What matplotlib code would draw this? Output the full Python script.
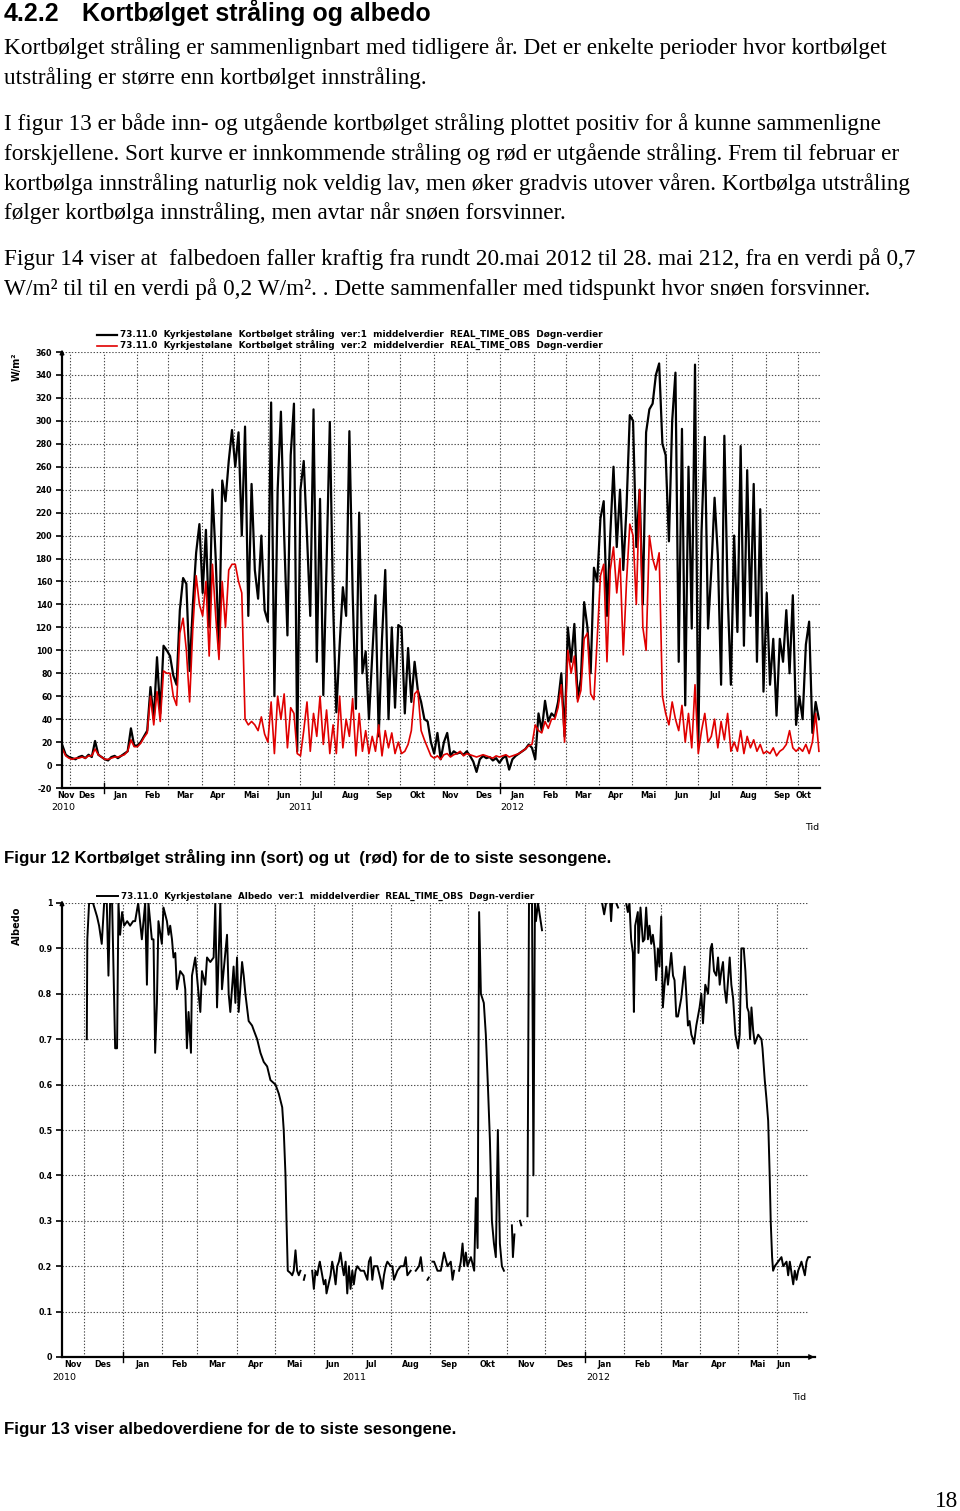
import datetime as dt
import numpy as np
import matplotlib
matplotlib.use("Agg")
import matplotlib.pyplot as plt
import matplotlib.dates as mdates

W, H = 960, 1511

# Figur 12: daglige middelverdier, lest av hver 3. dag fra 24.11.2010
sw_start = dt.datetime(2010, 11, 24)
sw_step = 3
sw_in = [17, 9, 7,
         6, 5, 7, 8, 6, 9, 7, 21, 9, 7,
         5, 4, 7, 8, 6, 8, 10, 12, 32, 17,
         17, 20, 25, 30, 68, 40, 94, 45, 104, 100,
         95, 78, 70, 135, 163, 158, 82, 140, 185, 210,
         150, 205, 120, 240, 180, 100, 248, 230, 265, 292,
         260, 290, 200, 295, 130, 245, 170, 145, 200, 135,
         125, 316, 60, 240, 308, 200, 113, 270, 315, 12,
         240, 265, 200, 130, 310, 90, 232, 61, 175, 299, 140,
         46, 104, 155, 130, 291, 150, 49, 220, 80, 99,
         40, 95, 148, 25, 110, 170, 40, 120, 50, 122,
         120, 45, 102, 55, 90, 65, 55, 40, 38, 20,
         10, 28, 5, 20, 28, 8, 12, 10, 11, 9,
         12, 8, 3, -6, 5, 8, 6, 7, 4, 6, 2,
         6, 8, -4, 5, 8, 10, 12, 14, 18, 15,
         5, 45, 30, 56, 38, 45, 42, 55, 80, 25,
         120, 90, 123, 58, 75, 142, 120, 80, 172, 160,
         215, 230, 130, 200, 260, 190, 240, 170, 225, 305,
         300, 190, 240, 140, 290, 310, 315, 340, 350, 280,
         270, 195, 300, 342, 90, 293, 52, 260, 119, 349,
         17, 203, 286, 119, 170, 233, 183, 70, 287, 150, 70,
         200, 116, 278, 104, 257, 130, 245, 90, 223, 64,
         150, 70, 110, 43, 110, 90, 135, 80, 148, 35,
         60, 40, 105, 125, 28, 55, 40]
sw_out = [14, 8, 6,
          5, 6, 6, 7, 6, 8, 8, 14, 9, 7,
          5, 5, 6, 7, 7, 8, 9, 12, 22, 16,
          16, 19, 24, 28, 60, 35, 64, 38, 82, 80,
          80, 60, 52, 115, 128, 100, 55, 120, 165, 140,
          130, 160, 95, 175, 130, 92, 160, 120, 170, 175,
          175, 160, 150, 40, 35, 38, 35, 30, 42, 27,
          20, 55, 10, 60, 40, 62, 15, 50, 45, 10,
          8, 30, 55, 12, 45, 25, 60, 18, 48, 10, 35,
          10, 60, 15, 40, 25, 58, 8, 45, 12, 30,
          10, 25, 12, 35, 8, 30, 15, 28, 10, 20,
          10, 12, 18, 30, 62, 65, 30, 22, 15, 8,
          6, 8, 5, 9, 10, 7, 9, 10, 12, 8,
          10, 9, 8, 7, 8, 9, 8, 7, 6, 8, 7,
          8, 9, 7, 8, 9, 10, 12, 14, 17, 18,
          35, 30, 28, 38, 32, 40, 40, 50, 70, 20,
          100, 80, 95, 55, 65, 110, 115, 62, 57, 110,
          165, 175, 90, 170, 190, 150, 180, 96, 160, 210,
          200, 140, 240, 120, 100, 200, 180, 170, 185, 60,
          45, 35, 55, 40, 30, 52, 20, 45, 15, 70,
          10, 30, 45, 20, 25, 40, 15, 38, 22, 45, 12,
          20, 12, 30, 10, 25, 15, 22, 12, 18, 10,
          12, 10, 15, 8, 12, 14, 18, 30, 15, 12,
          15, 12, 18, 10, 20, 45, 12]

# Figur 13: albedo, dager etter 14.11.2010 (nan = hull i serien)
alb_start = dt.datetime(2010, 11, 14)
nan = np.nan
alb_day = [19.6, 20.0, 21.4, 24.5, 27.7, 29.3, 31.4, 33.3, 35.4, 36.7, 38.0, 39.6, 42.0, 43.5, 44.6,
           45.9, 47.5, 49.1, 51.5, 53.8, 56.2, 57.8, 60.2, 63.1, 65.7, 67.1, 68.3, 71.0, 72.3, 73.6,
           75.0, 76.2, 78.9, 80.2, 82.9, 84.2, 85.5, 86.9, 88.1, 89.5, 90.8, 93.4, 96.0, 97.4, 98.7,
           100.0, 101.9, 102.7, 105.3, 107.9, 109.3, 110.6, 113.2, 114.6, 117.2, 119.8, 121.1, 122.5,
           125.1, 126.4, 127.7, 130.4, 131.7, 133.0, 135.6, 137.0, 138.3, 139.6, 142.3, 143.6, 144.9,
           147.5, 150.2, 151.5, 154.2, 156.8, 159.4, 162.1, 164.7, 168.7, 171.3, 174.0, 175.2, 176.6,
           177.4, 178.4, 180.5, 181.9, 183.1, 184.5, 185.8, 187.1, 188.4, 189.5, 191.1, 192.0, 193.0,
           197.7, 199.0, 200.3, 201.7, 202.9, 203.7, 205.6, 206.9, 208.2, 209.0, 212.2, 213.5, 214.8,
           216.2, 217.5, 218.8, 220.1, 221.5, 222.7, 224.1, 225.4, 226.7, 228.0, 229.4, 230.6, 232.0,
           233.3, 236.0, 238.6, 241.3, 242.5, 243.9, 245.2, 246.5, 249.2, 251.8, 253.1, 254.4, 255.8,
           257.1, 259.7, 261.1, 262.3, 265.0, 267.6, 270.2, 271.6, 272.9, 275.5, 277.0, 279.5, 282.1,
           283.5, 284.8, 286.5, 288.8, 289.8, 291.0, 292.7, 294.0, 296.7, 299.3, 301.9, 304.6, 307.2,
           308.6, 309.8, 312.0, 313.8, 315.1, 316.5, 317.7, 319.1, 320.4, 323.1, 325.7, 327.0, 328.4,
           329.6, 331.0, 333.3, 334.9, 336.5, 338.1, 339.7, 341.3, 342.8, 344.4, 346.0, 347.6, 349.2,
           352.0, 355.5, 356.3, 357.5, 359.5, 361.9, 362.9, 365.0, 367.8, 369.0, 371.4, 372.5, 373.7,
           374.5, 376.1, 379.3, 400.0, 426.8, 428.4, 429.9, 431.5, 433.1, 433.9, 434.7, 436.0, 437.9,
           439.4, 442.0, 445.8, 447.1, 448.4, 449.7, 451.1, 451.9, 452.9, 455.0, 455.5, 457.1, 459.0,
           460.3, 461.6, 463.0, 464.2, 465.6, 466.9, 468.2, 469.5, 470.9, 472.1, 473.5, 474.8, 476.1,
           477.5, 478.8, 481.4, 482.8, 484.0, 485.4, 486.7, 489.3, 492.0, 493.3, 494.6, 495.9, 497.3,
           498.6, 499.4, 501.2, 503.8, 505.2, 506.5, 508.3, 510.5, 512.5, 513.6, 515.2, 517.0, 518.4,
           519.7, 521.0, 522.3, 523.6, 525.0, 526.3, 527.6, 528.9, 530.3, 532.1, 534.2, 535.5, 536.8,
           538.7, 540.0, 541.4, 542.6, 543.7, 544.8, 546.1, 547.4, 550.1, 552.7, 553.5, 555.3, 556.6,
           558.0, 559.2, 560.0, 561.1, 561.9, 563.2, 565.9, 568.5, 569.9, 572.5, 573.8, 575.1, 577.8,
           579.0, 580.4, 581.7, 583.0, 584.3, 587.0, 588.3, 589.6, 590.9]
alb_val = [0.70, 0.92, 1.0, 1.0, 0.97, 0.95, 0.91, 1.0, 1.0, 0.84, 1.0, 1.0, 0.68, 0.68, 1.0,
           0.93, 0.98, 0.95, 0.96, 0.95, 0.96, 0.96, 1.0, 0.92, 1.0, 0.82, 1.0, 0.92, 0.92, 0.67,
           0.78, 0.96, 0.91, 0.99, 0.96, 0.93, 0.95, 0.92, 0.88, 0.89, 0.81, 0.85, 0.84, 0.81, 0.68,
           0.76, 0.67, 0.84, 0.88, 0.80, 0.76, 0.85, 0.82, 0.88, 0.87, 0.88, 1.0, 0.77,
           1.0, 0.81, 0.85, 0.93, 0.80, 0.76, 0.86, 0.78, 0.88, 0.76, 0.87, 0.84, 0.80,
           0.74, 0.73, 0.72, 0.70, 0.67, 0.65, 0.64, 0.61, 0.60, 0.58, 0.55, 0.50, 0.40,
           0.30, 0.19, 0.185, 0.18, 0.19, 0.235, 0.19, 0.18, 0.19, nan, 0.17, 0.18, nan,
           0.19, 0.15, 0.19, 0.18, 0.20, 0.21, 0.18, 0.16, 0.17, 0.14, 0.18, 0.21, 0.19,
           0.16, 0.20, 0.21, 0.23, 0.20, 0.18, 0.21, 0.14, 0.20, 0.15, 0.19, 0.16, 0.19,
           0.20, 0.19, 0.19, 0.17, 0.21, 0.22, 0.17, 0.20, 0.20, 0.17, 0.15, 0.18, 0.20,
           0.21, 0.20, 0.20, 0.17, 0.19, 0.20, 0.20, 0.22, 0.18, 0.19, nan, 0.19, 0.20,
           0.22, 0.19, nan, 0.17, 0.175, nan, 0.21, 0.21, 0.19, 0.19, 0.23, 0.20, 0.21,
           0.17, 0.19, nan, 0.19, 0.21, 0.25, 0.20, 0.23, 0.20, 0.22, 0.19, 0.35, 0.24,
           0.98, 0.80, 0.78, 0.71, 0.60, 0.48, 0.30, 0.25, 0.22, 0.50, 0.25, 0.20, 0.19,
           nan, 0.29, 0.22, 0.27, nan, 0.30, 0.29, nan, 0.31, 1.0, 1.0, 0.40, 1.0,
           0.96, 1.0, 0.94, nan, 1.0, 0.975, 1.0, nan, 1.0, 0.96, 1.0, nan, 1.0,
           0.99, nan, 1.0, 0.98, 1.0, 0.92, 0.89, 0.76, 0.95, 0.98, 0.89, 0.99, 0.915,
           0.92, 0.99, 0.92, 0.95, 0.91, 0.93, 0.90, 0.83, 0.90, 0.86, 0.97, 0.77, 0.82,
           0.86, 0.82, 0.89, 0.84, 0.83, 0.75, 0.75, 0.79, 0.86, 0.80, 0.73, 0.74, 0.71,
           0.70, 0.69, 0.73, 0.77, 0.80, 0.735, 0.82, 0.80, 0.90, 0.91, 0.85, 0.84, 0.88,
           0.82, 0.85, 0.87, 0.81, 0.78, 0.83, 0.88, 0.82, 0.79, 0.71, 0.68, 0.71, 0.90,
           0.90, 0.85, 0.77, 0.76, 0.70, 0.77, 0.72, 0.69, 0.71, 0.70, 0.68, 0.61, 0.57,
           0.52, 0.40, 0.30, 0.22, 0.19, 0.20, 0.21, 0.22, 0.20, 0.21, 0.18, 0.21, 0.16,
           0.19, 0.17, 0.19, 0.20, 0.21, 0.18, 0.21, 0.22, 0.22]

month_names = ['Jan', 'Feb', 'Mar', 'Apr', 'Mai', 'Jun', 'Jul', 'Aug', 'Sep', 'Okt', 'Nov', 'Des']

legend1 = ['73.11.0  Kyrkjestølane  Kortbølget stråling  ver:1  middelverdier  REAL_TIME_OBS  Døgn-verdier',
           '73.11.0  Kyrkjestølane  Kortbølget stråling  ver:2  middelverdier  REAL_TIME_OBS  Døgn-verdier']
legend2 = '73.11.0  Kyrkjestølane  Albedo  ver:1  middelverdier  REAL_TIME_OBS  Døgn-verdier'

body = [
    (54, 'Kortbølget stråling er sammenlignbart med tidligere år. Det er enkelte perioder hvor kortbølget'),
    (84, 'utstråling er større enn kortbølget innstråling.'),
    (130, 'I figur 13 er både inn- og utgående kortbølget stråling plottet positiv for å kunne sammenligne'),
    (160, 'forskjellene. Sort kurve er innkommende stråling og rød er utgående stråling. Frem til februar er'),
    (190, 'kortbølga innstråling naturlig nok veldig lav, men øker gradvis utover våren. Kortbølga utstråling'),
    (219, 'følger kortbølga innstråling, men avtar når snøen forsvinner.'),
    (265, 'Figur 14 viser at  falbedoen faller kraftig fra rundt 20.mai 2012 til 28. mai 212, fra en verdi på 0,7'),
    (295, 'W/m² til til en verdi på 0,2 W/m². . Dette sammenfaller med tidspunkt hvor snøen forsvinner.'),
]

GRID = dict(color='#4a4a4a', lw=0.8, ls=(0, (1.2, 1.6)))
TICKFONT = dict(family='DejaVu Sans', weight='bold', size=5.8)


def fx(px):
    return px / W


def fy(py):
    return 1 - py / H


def month_starts(d0, d1):
    out = []
    y, m = d0.year, d0.month
    while True:
        m += 1
        if m > 12:
            m, y = 1, y + 1
        d = dt.datetime(y, m, 1)
        if d >= d1:
            break
        out.append(d)
    return out


def dress_time_axis(ax, d0, d1, years, label_end):
    ax.set_xlim(mdates.date2num(d0), mdates.date2num(d1))
    starts = month_starts(d0, d1)
    for d in starts:
        ax.axvline(mdates.date2num(d), zorder=0, **GRID)
    edges = [d0] + starts + [label_end]
    mids = [mdates.date2num(a) + (mdates.date2num(b) - mdates.date2num(a)) / 2 for a, b in zip(edges[:-1], edges[1:])]
    labels = [month_names[a.month - 1] for a in edges[:-1]]
    ax.set_xticks(mids)
    ax.set_xticklabels(labels, **TICKFONT)
    ax.tick_params(axis='x', length=0, pad=2)
    for d in starts:
        if d.month == 1:
            ax.axvline(mdates.date2num(d), ymin=-0.012, ymax=0.012, color='black', lw=1.0, clip_on=False)
    for label, d in years:
        ax.text(mdates.date2num(d), -0.045, label, transform=ax.get_xaxis_transform(),
                ha='center', va='center', family='DejaVu Sans', size=6.8)


fig = plt.figure(figsize=(W / 100, H / 100), dpi=100)
fig.patch.set_facecolor('white')

# page text
fig.text(fx(4), fy(21), '4.2.2', family='Liberation Sans', weight='bold', size=18)
fig.text(fx(82), fy(21), 'Kortbølget stråling og albedo', family='Liberation Sans', weight='bold', size=18)
for base, line in body:
    fig.text(fx(4), fy(base), line, family='Liberation Serif', size=16.75)

# ---- figur 12
ax1 = fig.add_axes([fx(62), fy(788), (820 - 62) / W, (788 - 352) / H])
t_sw = [mdates.date2num(sw_start + dt.timedelta(days=sw_step * i)) for i in range(len(sw_in))]
ax1.plot(t_sw, sw_in, color='black', lw=1.6, label=legend1[0])
ax1.plot(t_sw, sw_out, color='#e00000', lw=1.2, label=legend1[1])
ax1.set_ylim(-20, 360)
ax1.set_yticks(range(-20, 361, 20))
ax1.set_yticklabels([str(v) for v in range(-20, 361, 20)], **TICKFONT)
ax1.tick_params(axis='y', length=4, width=1.2, pad=3)
for v in range(0, 361, 20):
    ax1.axhline(v, zorder=0, **GRID)
dress_time_axis(ax1, dt.datetime(2010, 11, 23, 14), dt.datetime(2012, 10, 21),
                [('2010', dt.datetime(2010, 11, 25)), ('2011', dt.datetime(2011, 7, 1)),
                 ('2012', dt.datetime(2012, 1, 12))], dt.datetime(2012, 10, 10))
for s in ['top', 'right']:
    ax1.spines[s].set_visible(False)
ax1.spines['left'].set_linewidth(1.6)
ax1.spines['bottom'].set_linewidth(1.6)
ax1.annotate('', xy=(0, 1.012), xytext=(0, 0.99), xycoords='axes fraction',
             arrowprops=dict(arrowstyle='-|>', color='black', lw=1.2, mutation_scale=6))
ax1.legend(loc='lower left', bbox_to_anchor=(0.046, 1.002), frameon=False, borderpad=0, borderaxespad=0,
           handlelength=2.3, handletextpad=0.35, labelspacing=0.12,
           prop=dict(family='DejaVu Sans', weight='bold', size=6.4))
fig.text(fx(17), fy(367), 'W/m²', rotation=90, ha='center', va='center',
         family='DejaVu Sans', weight='bold', size=7)
fig.text(fx(812), fy(828), 'Tid', ha='center', va='center', family='DejaVu Sans', size=6.8)

fig.text(fx(4), fy(863), 'Figur 12 Kortbølget stråling inn (sort) og ut  (rød) for de to siste sesongene.',
         family='Liberation Sans', weight='bold', size=12.2)

# ---- figur 13
ax2 = fig.add_axes([fx(62), fy(1357), (815 - 62) / W, (1357 - 903) / H])
t_alb = [mdates.date2num(alb_start + dt.timedelta(days=d)) for d in alb_day]
ax2.plot(t_alb, alb_val, color='black', lw=1.4, label=legend2)
ax2.set_ylim(0, 1.0)
yt = [round(0.1 * k, 1) for k in range(11)]
ax2.set_yticks(yt)
ax2.set_yticklabels(['0', '0.1', '0.2', '0.3', '0.4', '0.5', '0.6', '0.7', '0.8', '0.9', '1'], **TICKFONT)
ax2.tick_params(axis='y', length=4, width=1.2, pad=3)
for v in yt[1:]:
    ax2.axhline(v, xmax=0.99, zorder=0, **GRID)
dress_time_axis(ax2, dt.datetime(2010, 11, 14), dt.datetime(2012, 7, 1),
                [('2010', dt.datetime(2010, 11, 16)), ('2011', dt.datetime(2011, 7, 3)),
                 ('2012', dt.datetime(2012, 1, 12))], dt.datetime(2012, 6, 12))
for s in ['top', 'right']:
    ax2.spines[s].set_visible(False)
ax2.spines['left'].set_linewidth(1.6)
ax2.spines['bottom'].set_linewidth(1.6)
ax2.annotate('', xy=(0, 1.012), xytext=(0, 0.99), xycoords='axes fraction',
             arrowprops=dict(arrowstyle='-|>', color='black', lw=1.2, mutation_scale=6))
ax2.annotate('', xy=(1.003, 0), xytext=(0.98, 0), xycoords='axes fraction',
             arrowprops=dict(arrowstyle='->', color='black', lw=1.2, mutation_scale=7))
ax2.legend(loc='lower left', bbox_to_anchor=(0.047, 1.004), frameon=False, borderpad=0, borderaxespad=0,
           handlelength=2.3, handletextpad=0.35,
           prop=dict(family='DejaVu Sans', weight='bold', size=6.3))
fig.text(fx(17), fy(926), 'Albedo', rotation=90, ha='center', va='center',
         family='DejaVu Sans', weight='bold', size=7)
fig.text(fx(799), fy(1397), 'Tid', ha='center', va='center', family='DejaVu Sans', size=6.8)

fig.text(fx(4), fy(1434), 'Figur 13 viser albedoverdiene for de to siste sesongene.',
         family='Liberation Sans', weight='bold', size=12.2)
fig.text(fx(958), fy(1507), '18', ha='right', family='Liberation Serif', size=16.75)

fig.savefig('out.png', dpi=100)
